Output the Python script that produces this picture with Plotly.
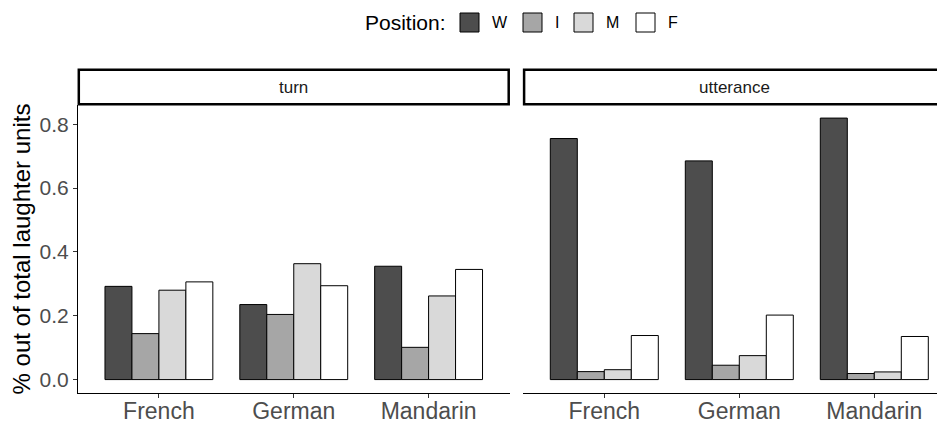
import plotly.graph_objects as go

# ---- data ----
categories = ["French", "German", "Mandarin"]
positions = ["W", "I", "M", "F"]
panels = ["turn", "utterance"]

turn_W = [0.292, 0.235, 0.355]
turn_I = [0.144, 0.204, 0.101]
turn_M = [0.280, 0.363, 0.262]
turn_F = [0.306, 0.294, 0.345]

utt_W = [0.755, 0.685, 0.819]
utt_I = [0.025, 0.045, 0.019]
utt_M = [0.031, 0.075, 0.024]
utt_F = [0.138, 0.202, 0.135]

y_ticks = [0.0, 0.2, 0.4, 0.6, 0.8]
y_tick_labels = ["0.0", "0.2", "0.4", "0.6", "0.8"]

fills = ["#4D4D4D", "#A6A6A6", "#D9D9D9", "#FFFFFF"]

turn_vals = [turn_W, turn_I, turn_M, turn_F]
utt_vals = [utt_W, utt_I, utt_M, utt_F]

# ---- layout geometry ----
# The page body has an 8px margin, so the figure is sized to fill the window.
OFF = 8
W, H = 945 - OFF, 423 - OFF
ML, MR, MT, MB = 70, 0, 97, 30
PW = W - ML - MR
PH = H - MT - MB
FONT = "Liberation Sans, Arial, Helvetica, sans-serif"


def px(sx):
    """window x pixel -> paper fraction"""
    return (sx - OFF - ML) / PW


def py(sy):
    """window y pixel -> paper fraction"""
    return (H - MB - (sy - OFF)) / PH


left_dom = [0.0, px(509.5)]
right_dom = [px(523.3), 1.0]
unit = (509.5 - 77.5) / 3.2
right_max = -0.6 + (945 - 523.3) / unit

fig = go.Figure()
for i, pos in enumerate(positions):
    fig.add_trace(go.Bar(
        x=categories, y=turn_vals[i], name=pos, offsetgroup=pos,
        marker=dict(color=fills[i], line=dict(color="black", width=1)),
        xaxis="x", yaxis="y", showlegend=False,
    ))
    fig.add_trace(go.Bar(
        x=categories, y=utt_vals[i], name=pos, offsetgroup=pos,
        marker=dict(color=fills[i], line=dict(color="black", width=1)),
        xaxis="x2", yaxis="y2", showlegend=False,
    ))

yrange = [-0.042, 0.860]
axis_common = dict(type="category", showgrid=False, zeroline=False,
                   showline=True, linecolor="black", linewidth=1.2,
                   ticks="outside", ticklen=4, tickcolor="#333333", tickwidth=1.1,
                   ticklabelstandoff=-7,
                   tickfont=dict(family=FONT, size=23, color="#4D4D4D"))
fig.update_layout(
    width=W, height=H,
    margin=dict(l=ML, r=MR, t=MT, b=MB, autoexpand=False),
    paper_bgcolor="white", plot_bgcolor="white",
    barmode="group", bargap=0.2, bargroupgap=0.0,
    font=dict(family=FONT, color="black"),
    xaxis=dict(domain=left_dom, range=[-0.6, 2.6], anchor="y", **axis_common),
    xaxis2=dict(domain=right_dom, range=[-0.6, right_max], anchor="y2", **axis_common),
    yaxis=dict(domain=[0, 1], range=yrange, anchor="x", showgrid=False, zeroline=False,
               showline=True, linecolor="black", linewidth=1.2,
               ticks="outside", ticklen=4, tickcolor="#333333", tickwidth=1.1,
               tickvals=y_ticks, ticktext=y_tick_labels,
               tickfont=dict(family=FONT, size=21, color="#4D4D4D"),
               title=dict(text="% out of total laughter units",
                          font=dict(family=FONT, size=24, color="black"), standoff=2)),
    yaxis2=dict(domain=[0, 1], range=yrange, anchor="x2", matches="y", showgrid=False,
                zeroline=False, showline=False, showticklabels=False, ticks=""),
    showlegend=False,
)

# ---- facet strips ----
strip_y0, strip_y1 = py(104.3), py(69.8)
for name, dom, extend in [(panels[0], left_dom, 0), (panels[1], right_dom, 0.03)]:
    fig.add_shape(type="rect", xref="paper", yref="paper",
                  x0=dom[0] + 0.8 / PW, x1=dom[1] + extend - 0.8 / PW,
                  y0=strip_y0, y1=strip_y1,
                  line=dict(color="black", width=2.5), fillcolor="white", layer="above")
    fig.add_annotation(xref="paper", yref="paper",
                       x=(dom[0] + dom[1]) / 2, y=(strip_y0 + strip_y1) / 2,
                       text=name, showarrow=False, xanchor="center", yanchor="middle",
                       font=dict(family=FONT, size=17, color="#1A1A1A"))

# ---- legend (drawn) ----
fig.add_annotation(xref="paper", yref="paper", x=px(448), y=py(22),
                   text="Position:", showarrow=False, xanchor="right", yanchor="middle",
                   font=dict(family=FONT, size=21, color="black"))
sq_left = [460, 523, 574, 636]
for i, pos in enumerate(positions):
    x0 = sq_left[i]
    fig.add_shape(type="rect", xref="paper", yref="paper",
                  x0=px(x0), x1=px(x0 + 19), y0=py(32), y1=py(13),
                  line=dict(color="black", width=1), fillcolor=fills[i])
    fig.add_annotation(xref="paper", yref="paper", x=px(x0 + 30), y=py(22.5),
                       text=pos, showarrow=False, xanchor="left", yanchor="middle",
                       font=dict(family=FONT, size=16, color="black"))

fig.write_html("out.html")
